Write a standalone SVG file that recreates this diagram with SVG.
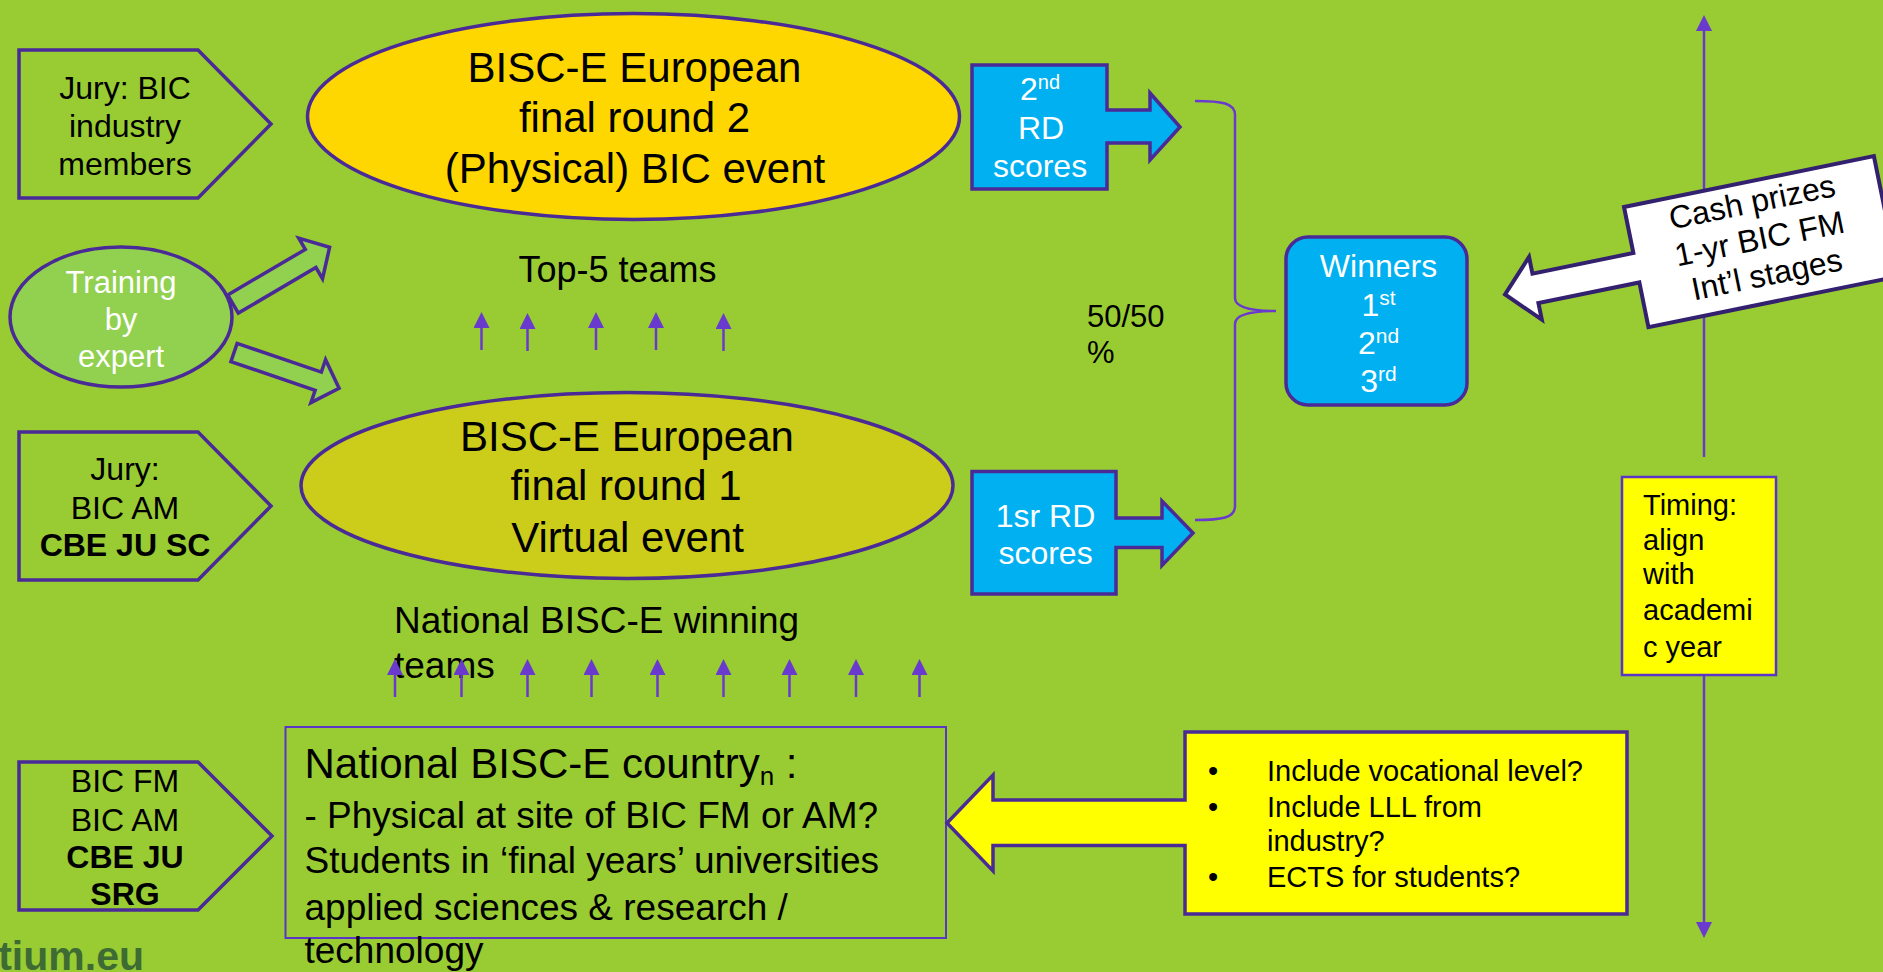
<svg xmlns="http://www.w3.org/2000/svg" width="1883" height="972" viewBox="0 0 1883 972">
<style>
text{font-family:'Liberation Sans',Arial,sans-serif;fill:#000}
.w{fill:#fff}
.b{font-weight:bold}
.out{stroke:#4A2A97;stroke-width:3.5}
.thin{fill:none;stroke:#5B35C8;stroke-width:2}
.conn{stroke:#6A3ACF;stroke-width:2.5;fill:none}
.j{font-size:32px;text-anchor:middle}
.el{font-size:42px;text-anchor:middle}
.bl{font-size:32px;text-anchor:middle;fill:#fff}
</style>
<defs>
<marker id="ah" viewBox="0 0 16 16" markerWidth="16" markerHeight="16" markerUnits="userSpaceOnUse" refX="0" refY="8" orient="auto">
<path d="M0,0 L16,8 L0,16 Z" fill="#6A3ACF"/>
</marker>
</defs>
<rect x="0" y="0" width="1883" height="972" fill="#99CC33"/>

<g id="footer">
<text x="144" y="970" text-anchor="end" class="b" style="font-size:41px;fill:#3E6B34">tium.eu</text>
</g>

<g id="connectors">
<line class="conn" x1="481.5" y1="350" x2="481.5" y2="328" marker-end="url(#ah)"/>
<line class="conn" x1="527.5" y1="351" x2="527.5" y2="329" marker-end="url(#ah)"/>
<line class="conn" x1="596" y1="350" x2="596" y2="328" marker-end="url(#ah)"/>
<line class="conn" x1="656" y1="350" x2="656" y2="328" marker-end="url(#ah)"/>
<line class="conn" x1="723.5" y1="351" x2="723.5" y2="329" marker-end="url(#ah)"/>
<line class="conn" x1="1704" y1="457" x2="1704" y2="31" marker-end="url(#ah)"/>
<line class="conn" x1="1704" y1="675" x2="1704" y2="922" marker-end="url(#ah)"/>
<path class="conn" d="M1195,101 C1222,101 1235,103 1235,115 L1235,298 C1235,307 1250,311 1276,311 C1250,311 1235,315 1235,324 L1235,506 C1235,518 1222,520 1195,520"/>
</g>

<g id="jury-bic-industry">
<path class="out" fill="none" d="M19,50 L198,50 L271,124 L198,198 L19,198 Z"/>
<text class="j" x="125" y="99">Jury: BIC</text>
<text class="j" x="125" y="137">industry</text>
<text class="j" x="125" y="175">members</text>
</g>

<g id="jury-bic-am">
<path class="out" fill="none" d="M19,432 L198,432 L271,506 L198,580 L19,580 Z"/>
<text class="j" x="125" y="479.5">Jury:</text>
<text class="j" x="125" y="518.5">BIC AM</text>
<text class="j b" x="125" y="556">CBE JU SC</text>
</g>

<g id="jury-bic-fm">
<path class="out" fill="none" d="M19,762 L198,762 L272,836 L198,910 L19,910 Z"/>
<text class="j" x="125" y="792">BIC FM</text>
<text class="j" x="125" y="830.5">BIC AM</text>
<text class="j b" x="125" y="868">CBE JU</text>
<text class="j b" x="125" y="905">SRG</text>
</g>

<g id="training">
<ellipse class="out" cx="121" cy="317" rx="111" ry="70" fill="#92D050"/>
<text x="121" y="293" text-anchor="middle" class="w" style="font-size:31px">Training</text>
<text x="121" y="330" text-anchor="middle" class="w" style="font-size:31px">by</text>
<text x="121" y="367" text-anchor="middle" class="w" style="font-size:31px">expert</text>
</g>

<g id="training-arrows">
<path class="out" fill="#92D050" transform="translate(233,304) rotate(-30.4)" d="M0,-10.5 L90,-10.5 L90,-23.5 L112,0 L90,23.5 L90,10.5 L0,10.5 Z"/>
<path class="out" fill="#92D050" transform="translate(234,352.5) rotate(18.8)" d="M0,-9.6 L89,-9.6 L89,-22.7 L111,0 L89,22.7 L89,9.6 L0,9.6 Z"/>
</g>

<g id="round2">
<ellipse class="out" cx="633.5" cy="116.5" rx="326" ry="103" fill="#FFD700"/>
<text class="el" x="634.5" y="82">BISC-E European</text>
<text class="el" x="634.5" y="132">final round 2</text>
<text class="el" x="635" y="183">(Physical) BIC event</text>
</g>

<g id="top5">
<text x="617.5" y="282" text-anchor="middle" style="font-size:36px">Top-5 teams</text>
</g>

<g id="round1">
<ellipse class="out" cx="627" cy="485.5" rx="326" ry="93" fill="#CCCC1A"/>
<text class="el" x="627" y="451">BISC-E European</text>
<text class="el" x="626" y="500">final round 1</text>
<text class="el" x="627.5" y="552">Virtual event</text>
</g>

<g id="national-winners">
<text x="394" y="633" style="font-size:37px">National BISC-E winning</text>
<text x="394" y="678" style="font-size:37px">teams</text>
</g>

<g id="connectors-national">
<line class="conn" x1="395" y1="697" x2="395" y2="675" marker-end="url(#ah)"/>
<line class="conn" x1="461.5" y1="697" x2="461.5" y2="675" marker-end="url(#ah)"/>
<line class="conn" x1="527.5" y1="697" x2="527.5" y2="675" marker-end="url(#ah)"/>
<line class="conn" x1="591.5" y1="697" x2="591.5" y2="675" marker-end="url(#ah)"/>
<line class="conn" x1="657.5" y1="697" x2="657.5" y2="675" marker-end="url(#ah)"/>
<line class="conn" x1="723.5" y1="697" x2="723.5" y2="675" marker-end="url(#ah)"/>
<line class="conn" x1="789.5" y1="697" x2="789.5" y2="675" marker-end="url(#ah)"/>
<line class="conn" x1="856" y1="697" x2="856" y2="675" marker-end="url(#ah)"/>
<line class="conn" x1="919.5" y1="697" x2="919.5" y2="675" marker-end="url(#ah)"/>
</g>

<g id="national-box">
<rect class="thin" x="285.5" y="727" width="660.5" height="211"/>
<text x="304.5" y="778" style="font-size:42px">National BISC-E country<tspan font-size="26" dy="7">n</tspan><tspan dy="-7"> :</tspan></text>
<text x="304.5" y="828" style="font-size:37px">- Physical at site of BIC FM or AM?</text>
<text x="304.5" y="873" style="font-size:37px">Students in ‘final years’ universities</text>
<text x="304.5" y="920" style="font-size:37px">applied sciences &amp; research /</text>
<text x="304.5" y="963" style="font-size:37px">technology</text>
</g>

<g id="rd2-scores">
<path class="out" fill="#00B0F0" d="M972,65 L1107,65 L1107,110 L1150,110 L1150,93 L1180,127 L1150,160 L1150,143 L1107,143 L1107,189 L972,189 Z"/>
<text class="bl" x="1040" y="100">2<tspan font-size="20" dy="-11">nd</tspan></text>
<text class="bl" x="1041" y="139">RD</text>
<text class="bl" x="1040" y="176.5">scores</text>
</g>

<g id="rd1-scores">
<path class="out" fill="#00B0F0" d="M972,471.5 L1116,471.5 L1116,518 L1162,518 L1162,501 L1193,533 L1162,565.5 L1162,547.5 L1116,547.5 L1116,594 L972,594 Z"/>
<text class="bl" x="1045.5" y="527">1sr RD</text>
<text class="bl" x="1045.5" y="564">scores</text>
</g>

<g id="split">
<text x="1087" y="327" style="font-size:31px">50/50</text>
<text x="1087" y="363" style="font-size:31px">%</text>
</g>

<g id="winners">
<rect class="out" x="1286" y="237" width="181" height="168" rx="22" fill="#00B0F0" stroke-width="4"/>
<text class="bl" x="1378.5" y="277">Winners</text>
<text class="bl" x="1378.5" y="316">1<tspan font-size="21" dy="-11">st</tspan></text>
<text class="bl" x="1378.5" y="354">2<tspan font-size="21" dy="-11">nd</tspan></text>
<text class="bl" x="1378.5" y="391.5">3<tspan font-size="21" dy="-11">rd</tspan></text>
</g>

<g id="prizes" transform="translate(1624,207) rotate(-11.5)">
<path d="M0,0 L255,0 L255,122.6 L0,122.6 L0,77 L-103,77 L-103,94 L-134,62 L-103,30 L-103,47 L0,47 Z" fill="#fff" stroke="#33206E" stroke-width="4"/>
<text x="126.5" y="31.5" text-anchor="middle" style="font-size:32px">Cash prizes</text>
<text x="126.5" y="69" text-anchor="middle" style="font-size:32px">1-yr BIC FM</text>
<text x="126.5" y="105.5" text-anchor="middle" style="font-size:32px">Int’l stages</text>
</g>

<g id="timing">
<rect x="1622" y="477" width="154" height="198" fill="#FFFF00" stroke="#5B35C8" stroke-width="2.5"/>
<text x="1643" y="515" style="font-size:29px">Timing:</text>
<text x="1643" y="549.5" style="font-size:29px">align</text>
<text x="1643" y="584" style="font-size:29px">with</text>
<text x="1643" y="620" style="font-size:29px">academi</text>
<text x="1643" y="656.5" style="font-size:29px">c year</text>
</g>

<g id="questions">
<path class="out" stroke-width="4" fill="#FFFF00" d="M1185,732 L1627,732 L1627,914 L1185,914 L1185,845.5 L993,845.5 L993,871 L947,823 L993,775 L993,800 L1185,800 Z"/>
<text x="1213" y="781" text-anchor="middle" style="font-size:29px">•</text>
<text x="1267" y="781" style="font-size:29px">Include vocational level?</text>
<text x="1213" y="816.5" text-anchor="middle" style="font-size:29px">•</text>
<text x="1267" y="816.5" style="font-size:29px">Include LLL from</text>
<text x="1267" y="851" style="font-size:29px">industry?</text>
<text x="1213" y="886.5" text-anchor="middle" style="font-size:29px">•</text>
<text x="1267" y="886.5" style="font-size:29px">ECTS for students?</text>
</g>
</svg>
